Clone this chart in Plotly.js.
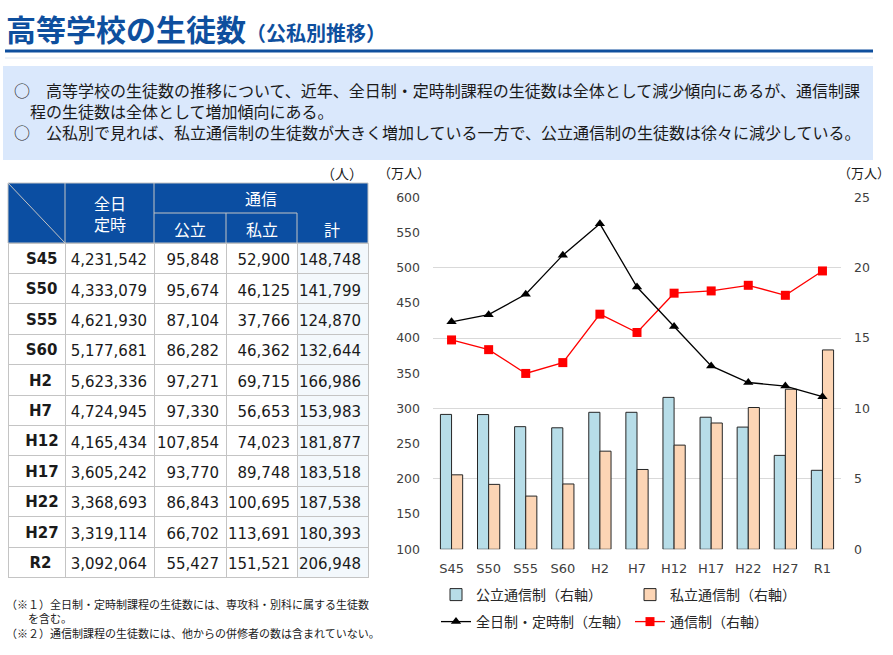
<!DOCTYPE html>
<html><head><meta charset="utf-8">
<script src="https://cdn.plot.ly/plotly-3.0.1.min.js"></script>
<style>html,body{margin:0;padding:0;background:#fff;overflow:hidden;} #chart{width:893px;height:655px;}</style>
</head><body><div id="chart"></div>
<script>
const W = 893, H = 655;
const px = x => x / W, py = y => 1 - y / H;

// ---- table data (persons) ----
const tableLabels   = ['S45','S50','S55','S60','H2','H7','H12','H17','H22','H27','R2'];
const tableFullPart = [4231542,4333079,4621930,5177681,5623336,4724945,4165434,3605242,3368693,3319114,3092064];
const tablePublic   = [95848,95674,87104,86282,97271,97330,107854,93770,86843,66702,55427];
const tablePrivate  = [52900,46125,37766,46362,69715,56653,74023,89748,100695,113691,151521];
const tableTotal    = [148748,141799,124870,132644,166986,153983,181877,183518,187538,180393,206948];

// ---- chart data (10,000 persons) ----
const chartCats     = ['S45','S50','S55','S60','H2','H7','H12','H17','H22','H27','R1'];
const chartFullPart = [423.2,433.3,462.2,517.8,562.3,472.5,416.5,360.5,336.9,331.9,316.8];
const chartPublic   = [9.58,9.57,8.71,8.63,9.73,9.73,10.79,9.38,8.68,6.67,5.61];
const chartPrivate  = [5.29,4.61,3.78,4.64,6.97,5.67,7.40,8.97,10.07,11.37,14.16];
const chartTotal    = [14.87,14.18,12.49,13.26,16.70,15.40,18.19,18.35,18.75,18.04,19.77];

const JP  = "'Noto Sans CJK JP', sans-serif";
const NUM = "'DejaVu Sans', Verdana, sans-serif";
const BLUE = '#0b4ea2';
const GRAYLINE = '#c4c4c4';

const traces = [
  {
    type: 'table',
    domain: {x: [px(8), px(368)], y: [py(579), py(227)]},
    columnwidth: [57, 89, 72, 71, 71],
    header: {values: [], height: 1, fill: {color: 'rgba(0,0,0,0)'}, line: {width: 0}},
    cells: {
      values: [tableLabels.map(s => '<b>' + s + '</b>'), tableFullPart, tablePublic, tablePrivate, tableTotal],
      format: ['', ',', ',', ',', ','],
      align: ['center', 'right', 'right', 'right', 'right'],
      height: 30.4,
      fill: {color: ['#ffffff', '#ffffff', '#ffffff', '#ffffff', '#f3f8fc']},
      line: {color: GRAYLINE, width: 1},
      font: {family: NUM, size: 11, color: '#1a1a1a'}
    }
  },
  {
    type: 'bar', name: '公立通信制（右軸）', x: chartCats, y: chartPublic,
    xaxis: 'x', yaxis: 'y', legend: 'legend',
    marker: {color: '#b7dde8', line: {color: '#262626', width: 1}}
  },
  {
    type: 'bar', name: '私立通信制（右軸）', x: chartCats, y: chartPrivate,
    xaxis: 'x', yaxis: 'y', legend: 'legend',
    marker: {color: '#fcd5b5', line: {color: '#262626', width: 1}}
  },
  {
    type: 'scatter', mode: 'lines+markers', name: '全日制・定時制（左軸）', x: chartCats, y: chartFullPart,
    xaxis: 'x', yaxis: 'y2', legend: 'legend2',
    line: {color: '#000000', width: 1.3},
    marker: {symbol: 'triangle-up', size: 9, color: '#000000'}
  },
  {
    type: 'scatter', mode: 'lines+markers', name: '通信制（右軸）', x: chartCats, y: chartTotal,
    xaxis: 'x', yaxis: 'y', legend: 'legend2',
    line: {color: '#ff0000', width: 1.3},
    marker: {symbol: 'square', size: 9, color: '#ff0000'}
  }
];

function hline(x0, x1, y, color, width) {
  return {type: 'line', xref: 'paper', yref: 'paper', x0: px(x0), x1: px(x1), y0: py(y), y1: py(y), line: {color: color, width: width}};
}
function vline(x, y0, y1, color, width) {
  return {type: 'line', xref: 'paper', yref: 'paper', x0: px(x), x1: px(x), y0: py(y0), y1: py(y1), line: {color: color, width: width}};
}
function txt(x, y, text, size, opts) {
  return Object.assign({xref: 'paper', yref: 'paper', x: px(x), y: py(y), text: text, showarrow: false,
    xanchor: 'left', yanchor: 'middle', font: {family: JP, size: size, color: '#1a1a1a'}}, opts || {});
}

const shapes = [
  hline(5, 873, 51, '#0e4f9e', 3),
  hline(5, 873, 58, '#dde6f2', 1),
  {type: 'rect', xref: 'paper', yref: 'paper', x0: px(3), x1: px(873), y0: py(160), y1: py(66), fillcolor: '#dae8fc', line: {width: 0}, layer: 'below'},
  {type: 'rect', xref: 'paper', yref: 'paper', x0: px(8), x1: px(368), y0: py(243), y1: py(183), fillcolor: BLUE, line: {color: GRAYLINE, width: 1}},
  vline(65, 183, 243, GRAYLINE, 1),
  vline(154, 183, 243, GRAYLINE, 1),
  hline(154, 297, 213, GRAYLINE, 1),
  vline(226, 213, 243, GRAYLINE, 1),
  vline(297, 213, 243, GRAYLINE, 1),
  {type: 'line', xref: 'paper', yref: 'paper', x0: px(8), y0: py(183), x1: px(65), y1: py(243), line: {color: GRAYLINE, width: 1}}
];

const white = {family: JP, size: 16, color: '#ffffff'};
const annotations = [
  txt(4, 28, '<b>高等学校の生徒数<span style="font-size:20px">（公私別推移）</span></b>', 30, {font: {family: JP, size: 30, color: '#0e4f9e'}}),
  txt(12, 111, '○　高等学校の生徒数の推移について、近年、全日制・定時制課程の生徒数は全体として減少傾向にあるが、通信制課' +
               '<br>　程の生徒数は全体として増加傾向にある。' +
               '<br>○　公私別で見れば、私立通信制の生徒数が大きく増加している一方で、公立通信制の生徒数は徐々に減少している。', 16, {align: 'left'}),
  txt(365, 173, '（人）', 14, {xanchor: 'right'}),
  txt(110, 213, '全日<br>定時', 16, {xanchor: 'center', font: white}),
  txt(261, 198, '通信', 16, {xanchor: 'center', font: white}),
  txt(190, 229, '公立', 16, {xanchor: 'center', font: white}),
  txt(261.5, 229, '私立', 16, {xanchor: 'center', font: white}),
  txt(332, 229, '計', 16, {xanchor: 'center', font: white}),
  txt(404, 173, '（万人）', 13, {xanchor: 'center'}),
  txt(864, 173, '（万人）', 13, {xanchor: 'center'}),
  txt(4, 594, '（※１）全日制・定時制課程の生徒数には、専攻科・別科に属する生徒数<br>　　を含む。<br>（※２）通信制課程の生徒数には、他からの併修者の数は含まれていない。', 11, {align: 'left', yanchor: 'top'})
];

const legendCommon = {orientation: 'h', xanchor: 'left', yanchor: 'middle',
  entrywidth: 149, entrywidthmode: 'pixels', bgcolor: 'rgba(0,0,0,0)',
  font: {family: JP, size: 14, color: '#262626'}};

const layout = {
  width: W, height: H,
  margin: {l: 0, r: 0, t: 0, b: 0, autoexpand: false},
  paper_bgcolor: '#ffffff', plot_bgcolor: 'rgba(0,0,0,0)',
  barmode: 'group', bargap: 0.4, bargroupgap: 0,
  showlegend: true,
  xaxis: {domain: [px(433), px(841)], anchor: 'y', type: 'category', range: [-0.5, chartCats.length - 0.5],
          showgrid: false, zeroline: false, showline: false,
          ticks: '', tickfont: {family: NUM, size: 13, color: '#404040'}, ticklabelstandoff: 10, fixedrange: true},
  yaxis: {domain: [py(549.3), py(197.3)], range: [0, 25], dtick: 5, side: 'right', anchor: 'x',
          showgrid: true, gridcolor: '#d9d9d9', gridwidth: 1, zeroline: false, showline: false, ticks: '',
          tickfont: {family: NUM, size: 12.5, color: '#404040'}, ticklabelstandoff: 12, fixedrange: true},
  yaxis2: {range: [100, 600], dtick: 50, overlaying: 'y', side: 'left', anchor: 'x',
           showgrid: false, zeroline: false, showline: false, ticks: '',
           tickfont: {family: NUM, size: 12.5, color: '#404040'}, ticklabelstandoff: 12, fixedrange: true},
  legend: Object.assign({x: px(436), y: py(595)}, legendCommon),
  legend2: Object.assign({x: px(436), y: py(622)}, legendCommon),
  shapes: shapes,
  annotations: annotations
};

Plotly.newPlot('chart', traces, layout, {displayModeBar: false, staticPlot: true}).then(function (gd) {
  // enlarge table text after Plotly has fixed the row heights
  var st = document.createElement('style');
  st.textContent = '#chart .table .cell-text{font-size:15px !important; translate: 1px 3px;}';
  document.head.appendChild(st);
});
</script>
</body></html>
